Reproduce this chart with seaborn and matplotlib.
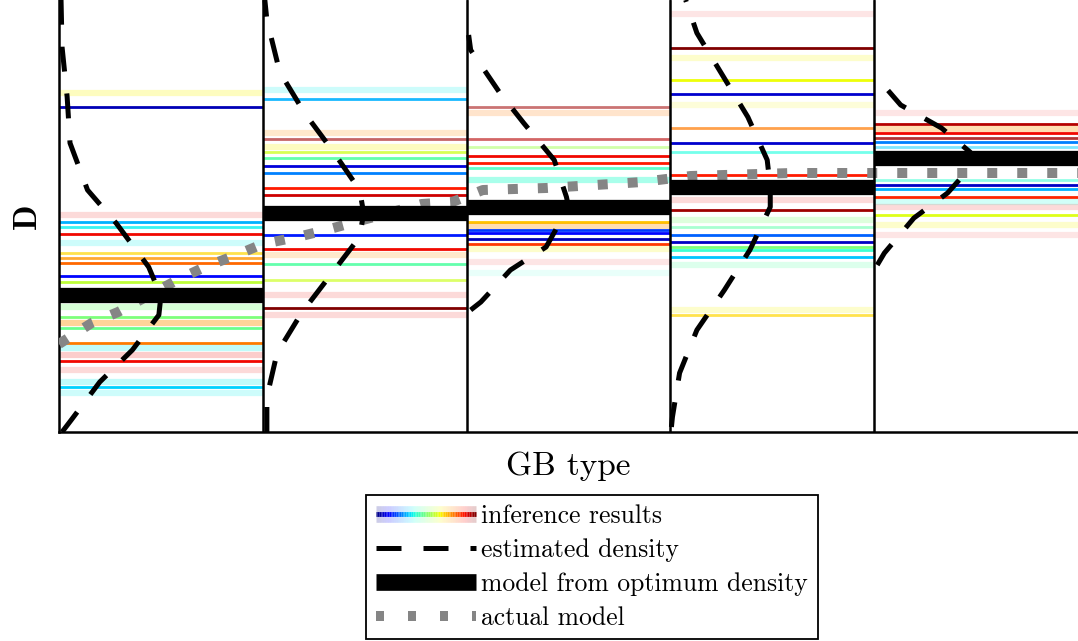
import numpy as np
import pandas as pd
import matplotlib
matplotlib.use("Agg")
import matplotlib.pyplot as plt
import seaborn as sns
from matplotlib.collections import LineCollection
from matplotlib.legend_handler import HandlerBase
from matplotlib.lines import Line2D

# ---------------------------------------------------------------- data
gb_labels = ["GB 1", "GB 2", "GB 3", "GB 4", "GB 5"]

# model value of D at the optimum of the estimated density, per GB type
optimum_D = [1.37, 2.19, 2.25, 2.45, 2.74]

# inference results per GB type: D value, position on the jet scale, weight
inf1_D = [3.39, 3.25, 2.17, 2.10, 2.05, 1.98, 1.89, 1.79, 1.74, 1.69, 1.56, 1.50,
          1.37, 1.25, 1.15, 1.09, 1.04, 0.89, 0.84, 0.77, 0.71, 0.62, 0.50, 0.45, 0.39]
inf1_tone = [0.65, 0.05, 0.90, 0.30, 0.36, 0.90, 0.36, 0.68, 0.75, 0.80, 0.13, 0.58,
             0.05, 0.50, 0.50, 0.75, 0.48, 0.78, 0.36, 0.90, 0.90, 0.90, 0.36, 0.33, 0.36]
inf1_w = [0.25, 1.0, 0.15, 1.0, 0.8, 1.0, 0.2, 0.7, 0.8, 1.0, 1.0, 1.0,
          1.0, 0.3, 1.0, 0.4, 1.0, 1.0, 0.25, 0.2, 1.0, 0.15, 0.25, 1.0, 0.2]

inf2_D = [3.42, 3.33, 2.99, 2.93, 2.85, 2.80, 2.74, 2.66, 2.59, 2.44, 2.37,
          1.97, 1.83, 1.77, 1.68, 1.52, 1.37, 1.24, 1.17]
inf2_tone = [0.36, 0.30, 0.75, 0.97, 0.65, 0.60, 0.45, 0.08, 0.25, 0.88, 0.93,
             0.15, 0.90, 0.75, 0.45, 0.60, 0.90, 1.00, 0.90]
inf2_w = [0.2, 0.9, 0.2, 0.6, 0.25, 0.8, 0.9, 1.0, 1.0, 1.0, 1.0,
          1.0, 1.0, 0.2, 0.9, 0.7, 0.15, 1.0, 0.15]

inf3_D = [3.25, 3.19, 2.93, 2.85, 2.76, 2.69, 2.64, 2.52, 2.10, 2.06,
          2.02, 1.99, 1.93, 1.88, 1.83, 1.70, 1.59]
inf3_tone = [0.97, 0.78, 0.95, 0.55, 0.90, 0.88, 0.42, 0.40, 0.70, 0.75,
             0.18, 0.13, 0.05, 0.85, 0.65, 0.90, 0.40]
inf3_w = [0.55, 0.2, 0.6, 0.5, 1.0, 1.0, 0.8, 0.4, 1.0, 0.3,
          1.0, 1.0, 1.0, 1.0, 0.2, 0.1, 0.1]

inf4_D = [4.18, 3.84, 3.74, 3.52, 3.38, 3.27, 3.04, 2.89, 2.80, 2.57, 2.32,
          2.22, 2.12, 2.05, 1.97, 1.90, 1.85, 1.82, 1.75, 1.67, 1.22, 1.17]
inf4_tone = [0.90, 1.00, 0.65, 0.64, 0.07, 0.65, 0.78, 0.07, 0.38, 0.88, 0.90,
             0.97, 0.50, 0.45, 0.22, 0.06, 0.50, 0.40, 0.32, 0.45, 0.65, 0.68]
inf4_w = [0.1, 1.0, 0.2, 1.0, 1.0, 0.15, 0.7, 1.0, 0.6, 1.0, 0.15,
          1.0, 0.25, 0.5, 1.0, 1.0, 1.0, 0.9, 1.0, 0.2, 0.2, 0.7]

inf5_D = [3.19, 3.08, 3.03, 2.99, 2.94, 2.90, 2.85, 2.52, 2.47, 2.43,
          2.35, 2.30, 2.25, 2.17, 2.07, 1.97]
inf5_tone = [0.90, 0.95, 0.75, 0.90, 0.97, 0.25, 0.33, 0.40, 0.06, 0.30,
             0.87, 0.38, 0.90, 0.62, 0.65, 0.90]
inf5_w = [0.1, 1.0, 0.3, 1.0, 0.8, 1.0, 0.5, 0.5, 1.0, 1.0,
          1.0, 0.2, 0.15, 1.0, 0.2, 0.1]

inference = [(inf1_D, inf1_tone, inf1_w), (inf2_D, inf2_tone, inf2_w),
             (inf3_D, inf3_tone, inf3_w), (inf4_D, inf4_tone, inf4_w),
             (inf5_D, inf5_tone, inf5_w)]

# estimated density per GB type (D value, density relative to the panel width)
dens1_D = [0.00, 0.12, 0.50, 0.82, 1.17, 1.36, 1.65, 2.09, 2.42, 2.89, 3.35, 3.85, 4.32]
dens1_p = [0.015, 0.06, 0.20, 0.36, 0.49, 0.50, 0.44, 0.28, 0.14, 0.054, 0.04, 0.015, 0.01]
dens2_D = [0.00, 0.35, 0.79, 1.19, 1.59, 1.95, 2.19, 2.42, 2.82, 3.19, 3.60, 4.12, 4.32]
dens2_p = [0.02, 0.02, 0.07, 0.19, 0.34, 0.475, 0.495, 0.475, 0.34, 0.205, 0.083, 0.02, 0.01]
dens3_D = [1.22, 1.30, 1.62, 1.85, 2.25, 2.35, 2.72, 3.09, 3.40, 3.82, 3.97]
dens3_p = [0.02, 0.07, 0.215, 0.39, 0.50, 0.49, 0.43, 0.28, 0.16, 0.02, 0.01]
dens4_D = [0.05, 0.15, 0.59, 1.02, 1.42, 1.82, 2.25, 2.45, 2.72, 3.15, 3.57, 3.99, 4.32]
dens4_p = [0.005, 0.01, 0.045, 0.13, 0.265, 0.39, 0.49, 0.49, 0.475, 0.38, 0.255, 0.13, 0.075]
dens5_D = [1.67, 1.79, 2.14, 2.39, 2.72, 2.80, 3.04, 3.27, 3.54]
dens5_p = [0.015, 0.05, 0.195, 0.36, 0.505, 0.47, 0.33, 0.13, 0.015]
density = [(dens1_D, dens1_p), (dens2_D, dens2_p), (dens3_D, dens3_p),
           (dens4_D, dens4_p), (dens5_D, dens5_p)]

# actual model of D across the GB types
actual_x = [0.00, 0.16, 0.29, 0.58, 0.715, 0.87, 1.00, 1.17, 1.31, 1.78, 1.93,
            2.08, 2.39, 2.71, 2.86, 3.10, 3.60, 4.20, 5.00]
actual_D = [0.88, 1.09, 1.20, 1.52, 1.65, 1.77, 1.88, 1.95, 2.02, 2.28, 2.30,
            2.42, 2.44, 2.48, 2.50, 2.56, 2.59, 2.59, 2.59]

# ---------------------------------------------------------------- style
sns.set_theme(style="white")
plt.rcParams["font.family"] = ["cmr10", "DejaVu Serif"]
plt.rcParams["axes.formatter.use_mathtext"] = True

cmap = plt.get_cmap("jet")
grey = "#858585"
black = "#000000"

fig = plt.figure(figsize=(10.78, 6.41), dpi=100)
ax = fig.add_axes([59 / 1078, 1 - 432 / 641, 1 - 59 / 1078, 432 / 641])

n = len(gb_labels)

# inference results: one horizontal line per result, spanning its GB panel
for i, (Dv, tone, w) in enumerate(inference):
    for d, t, a in zip(Dv, tone, w):
        lw = 2.0 if a >= 0.45 else 4.5
        ax.hlines(d, i, i + 1, colors=[cmap(t)], alpha=a, lw=lw, zorder=2)

# actual model
sns.lineplot(x=actual_x, y=actual_D, sort=False, estimator=None, color=grey,
             lw=7.2, linestyle=(0, (1, 2)), zorder=3, ax=ax)

# model from optimum density
for i, d in enumerate(optimum_D):
    ax.hlines(d, i, i + 1, colors=black, lw=11, zorder=4)

# estimated density, drawn sideways inside each panel
for i, (Dv, pv) in enumerate(density):
    sns.lineplot(x=[i + p for p in pv], y=Dv, sort=False, estimator=None,
                 color=black, lw=3.6, linestyle=(0, (5, 4.4)), zorder=5, ax=ax)

# panel separators
for i in range(1, n):
    ax.axvline(i, color=black, lw=1.8, zorder=6)

ax.set_xlim(0, n)
ax.set_ylim(0, 4.32)
ax.set_xticks([])
ax.set_yticks([])
for s in ["top", "right"]:
    ax.spines[s].set_visible(False)
for s in ["left", "bottom"]:
    ax.spines[s].set_color(black)
    ax.spines[s].set_linewidth(1.8)

ax.set_xlabel("GB type", fontsize=24, color=black)
ax.xaxis.set_label_coords(0.5, -0.046)
ax.set_ylabel("D", fontsize=24, family="cmb10", color=black)
ax.yaxis.set_label_coords(-0.017, 0.5)


# legend with a colour-gradient sample for the inference results
class GradientHandler(HandlerBase):
    def create_artists(self, legend, orig_handle, xdescent, ydescent,
                       width, height, fontsize, trans):
        xs = np.linspace(0, width, 60) - xdescent
        ys = np.full_like(xs, height / 2) - ydescent
        pts = np.array([xs, ys]).T.reshape(-1, 1, 2)
        segs = np.concatenate([pts[:-1], pts[1:]], axis=1)
        halo = LineCollection(segs, cmap=cmap, transform=trans, alpha=0.2, linewidths=12)
        halo.set_array(np.linspace(0, 1, len(segs)))
        line = LineCollection(segs, cmap=cmap, transform=trans, linewidths=3.5)
        line.set_array(np.linspace(0, 1, len(segs)))
        return [halo, line]


class GradientProxy:
    pass


handles = [
    GradientProxy(),
    Line2D([], [], color=black, lw=3.6, linestyle=(0, (5, 4.4))),
    Line2D([], [], color=black, lw=12, solid_capstyle="butt"),
    Line2D([], [], color=grey, lw=7.2, linestyle=(0, (0.8, 2.4))),
]
labels = ["inference results", "estimated density",
          "model from optimum density", "actual model"]
leg = fig.legend(handles, labels, handler_map={GradientProxy: GradientHandler()},
                 loc="upper left", bbox_to_anchor=(366 / 1078, 1 - 495 / 641),
                 frameon=True, fancybox=False, edgecolor=black, framealpha=1,
                 fontsize=18.5, handlelength=3.9, handletextpad=0.22,
                 labelspacing=0.39, borderpad=0.37, borderaxespad=0)
leg.get_frame().set_linewidth(1.3)
for t in leg.get_texts():
    t.set_color(black)

fig.savefig("out.png", dpi=100)
